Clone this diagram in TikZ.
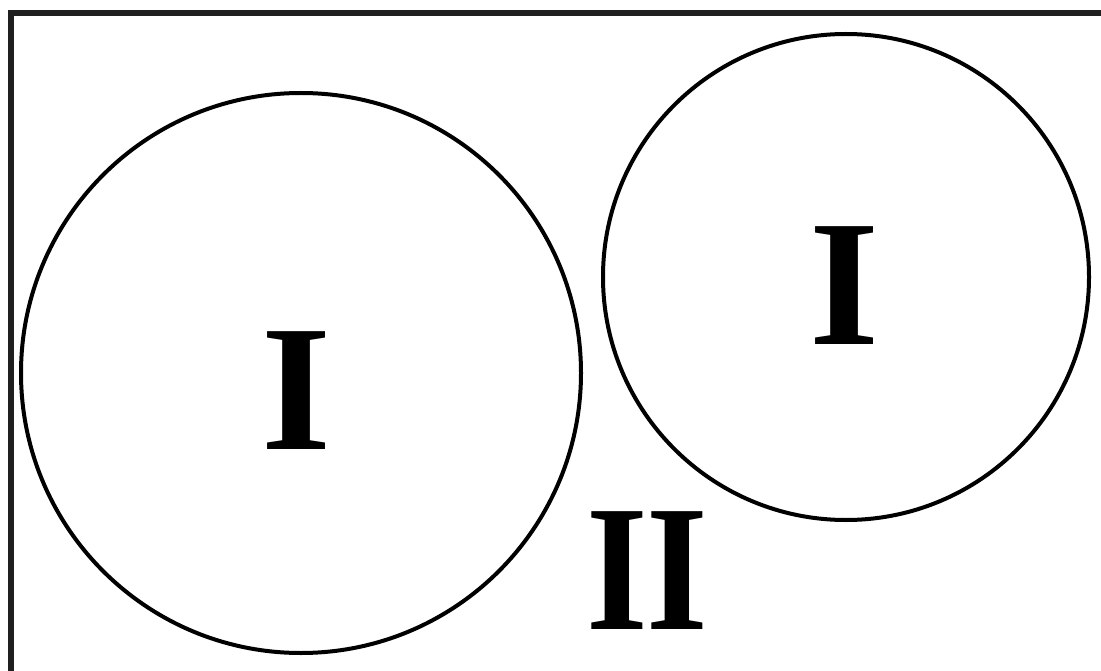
\documentclass[tikz,border=0pt]{standalone}
\usepackage{fontspec}
\setmainfont{Liberation Serif}
\begin{document}
\begin{tikzpicture}[x=1pt,y=-1pt,
  ring/.style={draw=black,line width=4pt},
  frameline/.style={draw=black!88,line width=6pt},
  roman/.style={font=\fontsize{180}{180}\selectfont\bfseries,inner sep=0pt,anchor=center}]
\useasboundingbox (0,0) rectangle (1101,671);
\fill[white] (0,0) rectangle (1101,671);
\coordinate (tl) at (11,13);
\coordinate (tr) at (1101,13);
\coordinate (bl) at (11,671);
\draw[frameline] (tr) -- (tl) -- (bl);
\node[ring,circle,minimum size=560pt,inner sep=0pt] (c1) at (301,373) {};
\node[ring,circle,minimum size=486pt,inner sep=0pt] (c2) at (846,277) {};
\node[roman] (l1) at (297,391) {\raisebox{0pt}{I}};
\node[roman] (l2) at (845,286) {I};
\node[roman] (l3) at (647,571) {\scalebox{0.88}[1]{I\kern-2pt I}};
\end{tikzpicture}
\end{document}
